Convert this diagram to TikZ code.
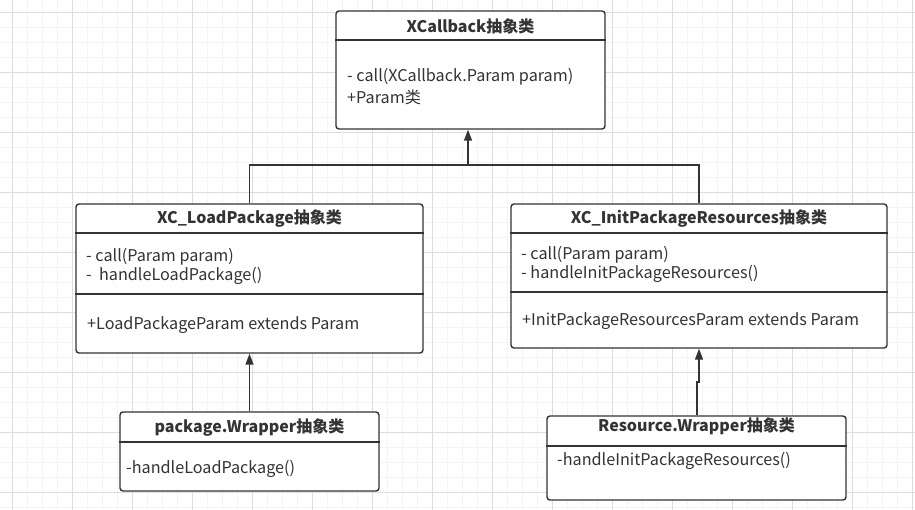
\documentclass[tikz,border=0pt]{standalone}
\usepackage{fontspec}
\setmainfont{Noto Sans CJK SC}
\usetikzlibrary{arrows.meta}
\definecolor{ink}{HTML}{333333}
\definecolor{gridmin}{HTML}{F4F4F4}
\definecolor{gridmaj}{HTML}{DDDDDD}
\begin{document}
\begin{tikzpicture}[x=1pt,y=-1pt,
  umlbox/.style={draw=ink, line width=1.4pt, rounded corners=3pt, fill=white, inner sep=0pt},
  hdr/.style={font=\fontsize{16}{18}\selectfont\bfseries, text=ink, inner sep=0pt},
  txt/.style={font=\fontsize{16.2}{18}\selectfont, text=ink, anchor=west, inner sep=0pt},
  divline/.style={draw=ink, line width=1.2pt},
  conn/.style={draw=ink, line width=1.5pt},
  arr/.style={conn, -{Triangle[length=11pt,width=8pt]}}]
\useasboundingbox (0,0) rectangle (915,510);
\fill[white] (0,0) rectangle (915,510);
% grid
\foreach \i in {-3,12,...,915} {\draw[gridmin, line width=0.6pt] (\i,0) -- (\i,510);}
\foreach \j in {-3,12,...,510} {\draw[gridmin, line width=0.6pt] (0,\j) -- (915,\j);}
\foreach \i in {12,72,...,915} {\draw[gridmaj, line width=0.7pt] (\i,0) -- (\i,510);}
\foreach \j in {12,72,...,510} {\draw[gridmaj, line width=0.7pt] (0,\j) -- (915,\j);}

% XCallback
\node[umlbox, minimum width=269pt, minimum height=118pt] (xcb) at (470.5,70) {};
\draw[divline] (xcb.west |- 0,40) -- (xcb.east |- 0,40);
\node[hdr] (xcbh) at (470.5,26) {XCallback抽象类};
\node[txt] (xcb1) at (347,76.5) {- call(XCallback.Param param)};
\node[txt] (xcb2) at (347,97.5) {+Param类};

% XC_LoadPackage
\node[umlbox, minimum width=347pt, minimum height=149pt] (lp) at (249.5,278.5) {};
\draw[divline] (lp.west |- 0,233) -- (lp.east |- 0,233);
\draw[divline] (lp.west |- 0,294) -- (lp.east |- 0,294);
\node[hdr] (lph) at (249.5,219) {XC\_LoadPackage抽象类};
\node[txt] (lp1) at (86,256.5) {- call(Param param)};
\node[txt] (lp2) at (86,275.5) {-\ \ handleLoadPackage()};
\node[txt] (lp3) at (87,325.5) {+LoadPackageParam extends Param};

% XC_InitPackageResources
\node[umlbox, minimum width=376pt, minimum height=144pt] (ip) at (699,276) {};
\draw[divline] (ip.west |- 0,233) -- (ip.east |- 0,233);
\draw[divline] (ip.west |- 0,292) -- (ip.east |- 0,292);
\node[hdr] (iph) at (699,219) {XC\_InitPackageResources抽象类};
\node[txt] (ip1) at (521,254.5) {- call(Param param)};
\node[txt] (ip2) at (521,273.5) {- handleInitPackageResources()};
\node[txt] (ip3) at (522,321.5) {+InitPackageResourcesParam extends Param};

% package.Wrapper
\node[umlbox, minimum width=259pt, minimum height=79pt] (pw) at (249.5,451.5) {};
\draw[divline] (pw.west |- 0,442) -- (pw.east |- 0,442);
\node[hdr] (pwh) at (249.5,427.5) {package.Wrapper抽象类};
\node[txt] (pw1) at (126,468.5) {-handleLoadPackage()};

% Resource.Wrapper
\node[umlbox, minimum width=299pt, minimum height=84pt] (rw) at (696.5,458) {};
\draw[divline] (rw.west |- 0,446) -- (rw.east |- 0,446);
\node[hdr] (rwh) at (696.5,426.5) {Resource.Wrapper抽象类};
\node[txt] (rw1) at (557,460.5) {-handleInitPackageResources()};

% connectors
\coordinate (j) at (468,165);
\coordinate (jog) at (697,382);
\draw[conn] (lp.north) |- (j) -| (ip.north);
\draw[arr] (j) -- (j |- xcb.south);
\draw[arr] (pw.north) -- (lp.south);
\draw[arr] (rw.north -| jog) -- (jog) -- ++(2,0) -- (ip.south);
\end{tikzpicture}
\end{document}
